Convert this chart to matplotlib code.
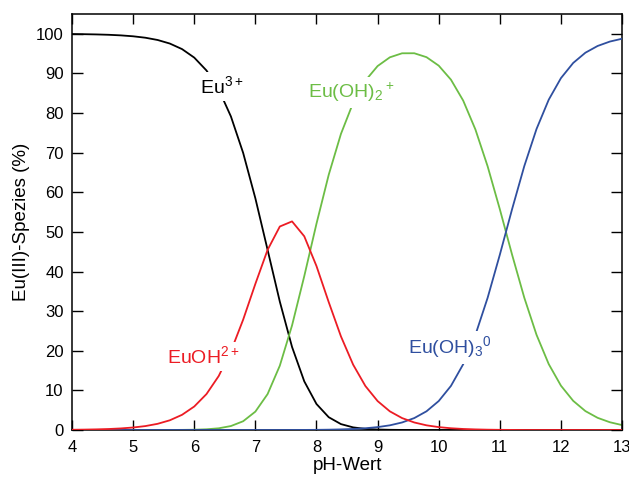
import numpy as np
import matplotlib
matplotlib.use("Agg")
import matplotlib.pyplot as plt

# ---------------- data ----------------
ph = [4.0, 4.2, 4.4, 4.6, 4.8, 5.0, 5.2, 5.4, 5.6, 5.8,
      6.0, 6.2, 6.4, 6.6, 6.8, 7.0, 7.2, 7.4, 7.6, 7.8,
      8.0, 8.2, 8.4, 8.6, 8.8, 9.0, 9.2, 9.4, 9.6, 9.8,
      10.0, 10.2, 10.4, 10.6, 10.8, 11.0, 11.2, 11.4, 11.6, 11.8,
      12.0, 12.2, 12.4, 12.6, 12.8, 13.0]

eu3 = [99.94, 99.90, 99.84, 99.75, 99.60, 99.37, 99.01, 98.44, 97.54, 96.14,
       93.99, 90.74, 85.95, 79.13, 69.94, 58.47, 45.47, 32.40, 20.96, 12.28,
       6.56, 3.23, 1.49, 0.66, 0.28, 0.12, 0.05, 0.02, 0.0, 0.0,
       0.0, 0.0, 0.0, 0.0, 0.0, 0.0, 0.0, 0.0, 0.0, 0.0,
       0.0, 0.0, 0.0, 0.0, 0.0, 0.0]

euoh = [0.06, 0.10, 0.16, 0.25, 0.40, 0.63, 0.99, 1.56, 2.45, 3.83,
        5.93, 9.07, 13.62, 19.88, 27.85, 36.89, 45.47, 51.36, 52.65, 48.89,
        41.37, 32.28, 23.63, 16.48, 11.10, 7.30, 4.71, 3.01, 1.90, 1.18,
        0.73, 0.44, 0.26, 0.15, 0.08, 0.04, 0.02, 0.0, 0.0, 0.0,
        0.0, 0.0, 0.0, 0.0, 0.0, 0.0]

euoh2 = [0.0, 0.0, 0.0, 0.0, 0.0, 0.0, 0.0, 0.01, 0.01, 0.03,
         0.07, 0.18, 0.43, 1.00, 2.21, 4.64, 9.07, 16.24, 26.39, 38.83,
         52.08, 64.41, 74.73, 82.60, 88.18, 91.86, 94.06, 95.08, 95.09, 94.10,
         91.96, 88.42, 83.15, 75.86, 66.56, 55.71, 44.26, 33.39, 24.03, 16.63,
         11.18, 7.36, 4.77, 3.07, 1.96, 1.24]

euoh3 = [0.0, 0.0, 0.0, 0.0, 0.0, 0.0, 0.0, 0.0, 0.0, 0.0,
         0.0, 0.0, 0.0, 0.0, 0.0, 0.0, 0.0, 0.0, 0.01, 0.02,
         0.04, 0.08, 0.15, 0.26, 0.44, 0.73, 1.18, 1.90, 3.01, 4.72,
         7.31, 11.13, 16.59, 23.99, 33.36, 44.25, 55.72, 66.61, 75.97, 83.37,
         88.82, 92.64, 95.23, 96.93, 98.04, 98.76]

# ---------------- style ----------------
plt.rcParams['font.family'] = ['Liberation Sans', 'DejaVu Sans']
plt.rcParams['mathtext.default'] = 'regular'

fig = plt.figure(figsize=(6.29, 4.79), dpi=100)
ax = fig.add_axes([0.1145, 0.1023, 0.8745, 0.8685])

lw = 1.3
ax.plot(ph, eu3, color='black', lw=lw, zorder=2)
ax.plot(ph, euoh2, color='#6cbd45', lw=lw, zorder=2)
ax.plot(ph, euoh3, color='#2f4f9f', lw=lw, zorder=3)
ax.plot(ph, euoh, color='#ec1c24', lw=lw, zorder=4)

# labels on the curves (white box hides the line underneath)
box = dict(facecolor='white', edgecolor='none', pad=2.5)
ax.text(6.09, 85.0, r'Eu$^{3+}$', color='black', fontsize=14,
        ha='left', va='baseline', bbox=box, zorder=5)
ax.text(7.86, 83.8, r'Eu(OH)$_2{}^+$', color='#6cbd45', fontsize=14,
        ha='left', va='baseline', bbox=box, zorder=5)
ax.text(5.55, 16.8, r'EuOH$^{2+}$', color='#ec1c24', fontsize=14,
        ha='left', va='baseline', bbox=box, zorder=5)
ax.text(9.49, 19.4, r'Eu(OH)$_3{}^0$', color='#2f4f9f', fontsize=14,
        ha='left', va='baseline', bbox=box, zorder=5)

ax.set_xlim(4, 13)
ax.set_ylim(0, 105)
ax.set_xticks(np.arange(4, 14, 1))
ax.set_yticks(np.arange(0, 101, 10))

ax.tick_params(direction='in', top=True, right=True, labelsize=12,
               width=1.0, color='black')
ax.tick_params(axis='x', length=7, pad=7)
ax.tick_params(axis='y', length=8, pad=6)
for s in ax.spines.values():
    s.set_linewidth(1.1)

ax.set_xlabel('pH-Wert', fontsize=13.5, labelpad=2)
ax.set_ylabel('Eu(III)-Spezies (%)', fontsize=13.5, labelpad=4)

fig.savefig('out.png', dpi=100)
